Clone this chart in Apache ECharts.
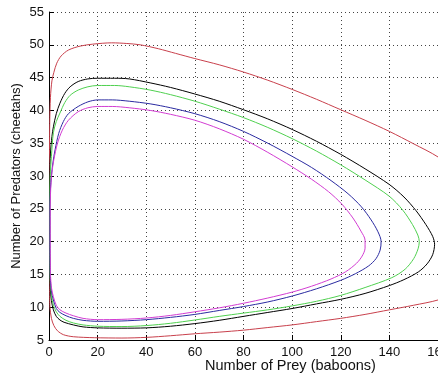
<!DOCTYPE html>
<html>
<head>
<meta charset="utf-8">
<script src="https://cdn.jsdelivr.net/npm/echarts@6/dist/echarts.min.js"></script>
<style>html,body{margin:0;padding:0;background:#fff}#c{width:438px;height:377px}</style>
</head>
<body>
<div id="c"></div>
<script>
var xTicks = [0, 20, 40, 60, 80, 100, 120, 140, 160];
var yTicks = [5, 10, 15, 20, 25, 30, 35, 40, 45, 50, 55];
var xTitle = 'Number of Prey (baboons)';
var yTitle = 'Number of Predators (cheetahs)';

var redCurve = [[0.3,12],[0.2,20],[0.2,30],[0.3,38],[0.6,42],[1.2,44.5],[2,45.8],[3.2,47.2],[5,48.3],[8,49.2],[12.8,49.8],[18,50.1],[25.8,50.3],[32,50.2],[37.5,50],[45,49.4],[52,48.7],[60,47.9],[70,46.95],[80,45.85],[90,44.6],[100,43.2],[110,41.7],[120,40.1],[130,38.5],[140,36.8],[150,34.9],[160,32.9],[170,30],[178,26],[182,20],[178,15],[170,12.5],[160,11.1],[150,10.3],[140,9.6],[130,8.9],[120,8.3],[110,7.8],[100,7.3],[90,6.9],[80,6.5],[70,6.2],[60,5.95],[50,5.65],[40,5.4],[30,5.3],[18.6,5.35],[10,5.5],[6,5.8],[3.5,6.4],[2,7.2],[1,8.3],[0.4,10],[0.3,12]];
var blackCurve = [[0.3,15],[0.2,20],[0.2,25],[0.3,30],[0.6,33.5],[1.2,36],[1.8,37.5],[3,39.5],[4.5,41.1],[6.5,42.6],[8.7,43.6],[12,44.4],[16,44.8],[20,44.9],[27,44.9],[33,44.8],[41.6,44.2],[50,43.5],[60,42.5],[70,41.4],[80,40.1],[90,38.7],[100,37.1],[110,35.3],[120,33.3],[130,31.1],[140,28.7],[146,26.8],[151,24.7],[155,22.6],[157.8,20.8],[158.6,19.6],[157.8,18.0],[155.5,16.6],[152,15.4],[146,14.2],[140,13.3],[130,12.1],[120,11.2],[110,10.5],[100,9.8],[90,9.2],[80,8.6],[70,8.0],[60,7.5],[50,7.1],[40,6.85],[30,6.8],[20,6.85],[14,7.0],[10,7.3],[6.2,7.7],[4.5,8.05],[3,8.6],[1.8,9.6],[1,11],[0.5,13],[0.3,15]];
var greenCurve = [[0.4,15],[0.3,20],[0.3,25],[0.5,30],[1,33],[1.8,36.6],[3,38.3],[4.5,39.6],[6.5,41.2],[8.7,42.3],[12,43.1],[16,43.6],[20,43.8],[27,43.8],[33,43.6],[41.6,43.1],[50,42.4],[60,41.4],[70,40.2],[80,38.9],[90,37.4],[100,35.7],[110,33.8],[120,31.7],[130,29.4],[140,26.9],[145.5,24.8],[149.5,22.6],[151.7,21.0],[152.3,20.0],[151.8,18.9],[150,17.4],[146.5,15.8],[141,14.5],[130,13.0],[120,11.8],[110,10.9],[100,10.2],[90,9.6],[80,9.1],[70,8.6],[60,8.05],[50,7.55],[40,7.2],[30,7.05],[20,7.1],[14,7.3],[10,7.6],[7,8.0],[4.5,8.6],[3,9.3],[1.8,10.3],[1,11.8],[0.6,13.5],[0.4,15]];
var blueCurve = [[0.5,15],[0.4,20],[0.4,25],[0.6,28],[1,30],[1.6,32],[2.5,34],[4,36.5],[5.9,38.3],[8,39.5],[12,40.6],[16,41.3],[20,41.6],[26,41.6],[33,41.4],[41.6,41.0],[50,40.4],[60,39.5],[70,38.3],[80,36.8],[90,35.0],[100,33.0],[108,31.3],[116,29.3],[123,27.3],[128.5,25.3],[132.5,23.3],[135.3,21.5],[136.6,20.0],[136.2,18.7],[134.5,17.4],[131.5,16.3],[126,15.1],[120,14.1],[110,12.8],[100,11.7],[90,10.8],[80,10.1],[70,9.5],[60,8.9],[50,8.45],[40,8.1],[30,7.9],[20,7.85],[14,8.0],[10,8.3],[7,8.7],[4.5,9.2],[3,9.8],[1.8,11.1],[1,12.5],[0.6,14],[0.5,15]];
var magentaCurve = [[0.6,15],[0.5,20],[0.5,25],[0.7,28],[1.2,30.5],[2,32.5],[3.5,35],[5.5,37],[8,38.5],[12,39.8],[16,40.4],[20,40.6],[26,40.6],[33,40.4],[41.6,40.0],[50,39.4],[60,38.5],[70,37.2],[80,35.6],[90,33.6],[100,31.4],[108,29.5],[115,27.6],[120.5,25.7],[125,23.6],[128.3,21.6],[130,20.2],[130,19.0],[128.8,17.8],[126.5,16.7],[122,15.4],[116,14.3],[108,13.2],[100,12.3],[90,11.4],[80,10.6],[70,9.9],[60,9.3],[50,8.75],[40,8.35],[30,8.15],[20,8.1],[14,8.3],[10,8.7],[7,9.1],[4.5,9.6],[3,10.3],[1.8,11.6],[1,13],[0.6,15]];

var seriesList = [
  {name:'r', data: redCurve, color:'#c8404c'},
  {name:'k', data: blackCurve, color:'#000000'},
  {name:'g', data: greenCurve, color:'#4fd04f'},
  {name:'b', data: blueCurve, color:'#2a2aa0'},
  {name:'m', data: magentaCurve, color:'#d23cd2'}
];

var chart = echarts.init(document.getElementById('c'), null, {renderer:'canvas'});
var fontFam = 'Liberation Sans, Arial, Helvetica, sans-serif';
chart.setOption({
  animation: false,
  grid: {left: 49, top: 12, right: 0, bottom: 37, containLabel: false, outerBoundsMode: 'none'},
  xAxis: {
    type: 'value', min: 0, max: 160, interval: 20,
    name: xTitle, nameLocation: 'middle', nameGap: 18, nameMoveOverlap: false,
    nameTextStyle: {color:'#111', fontSize: 14.5, fontFamily: fontFam, padding:[0,0,0,94]},
    axisLine: {show: true, lineStyle: {color:'#000', width:1}},
    axisTick: {show: true, inside: true, length: 5, lineStyle:{color:'#000'}},
    axisLabel: {color:'#111', fontSize: 13, fontFamily: fontFam, margin: 6, showMaxLabel: true, hideOverlap: false,
      formatter: function(v){ return xTicks.indexOf(v) >= 0 ? String(v) : ''; }},
    splitLine: {show: true, lineStyle: {color:'#444', type:[1,3], width:1}}
  },
  yAxis: {
    type: 'value', min: 5, max: 55, interval: 5,
    name: yTitle, nameLocation: 'middle', nameGap: 26, nameRotate: 90, nameMoveOverlap: false,
    nameTextStyle: {color:'#111', fontSize: 13, fontFamily: fontFam},
    axisLine: {show: true, lineStyle: {color:'#000', width:1}},
    axisTick: {show: true, inside: true, length: 5, lineStyle:{color:'#000'}},
    axisLabel: {color:'#111', fontSize: 13, fontFamily: fontFam, margin: 5,
      formatter: function(v){ return yTicks.indexOf(v) >= 0 ? String(v) : ''; }},
    splitLine: {show: true, lineStyle: {color:'#444', type:[1,3], width:1}}
  },
  series: seriesList.map(function(s){
    return {
      type:'line', name: s.name, data: s.data, showSymbol:false, symbol:'none',
      smooth: 0.3, clip: true,
      lineStyle:{color: s.color, width: 1}, itemStyle:{color:s.color}
    };
  })
});
</script>
</body>
</html>
